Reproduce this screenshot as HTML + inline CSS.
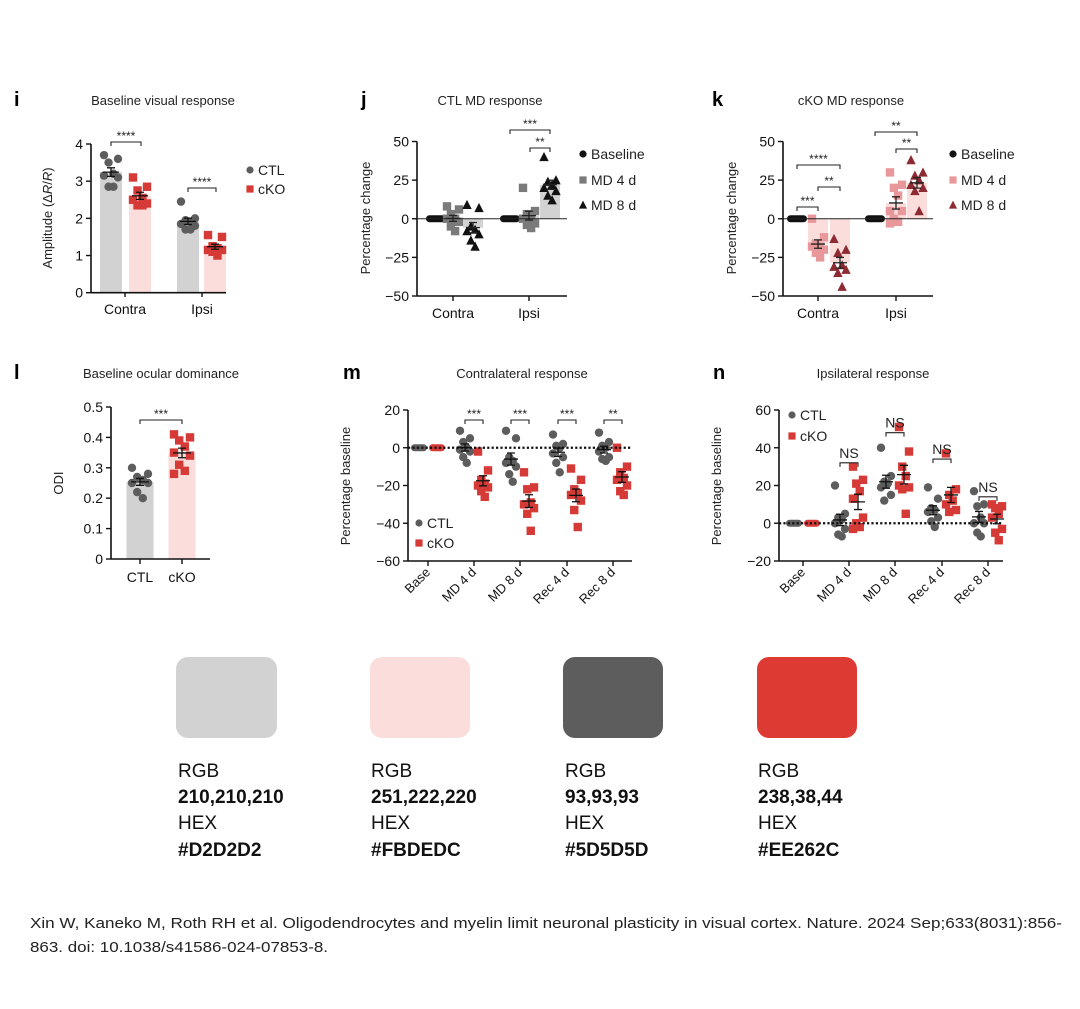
<!DOCTYPE html>
<html><head><meta charset="utf-8">
<style>
html,body{margin:0;padding:0;background:#fff;}
svg{display:block;font-family:"Liberation Sans",Arial,sans-serif;}
</style></head>
<body>
<svg id="fig" width="1080" height="1009" viewBox="0 0 1080 1009" xmlns="http://www.w3.org/2000/svg">
<g id="plots"></g>
<g id="swatches">
  <rect x="176" y="657" width="101" height="81" rx="12" fill="#D2D2D2"/>
  <rect x="370" y="657" width="100" height="81" rx="12" fill="#FBDEDC"/>
  <rect x="563" y="657" width="100" height="81" rx="12" fill="#5D5D5D"/>
  <rect x="757" y="657" width="100" height="81" rx="12" fill="#DE3A34"/>
  <g font-size="19" fill="#111" font-family="'Liberation Sans Narrow','Liberation Sans',sans-serif">
    <text x="178" y="777">RGB</text>
    <text x="178" y="803" font-weight="bold">210,210,210</text>
    <text x="178" y="829">HEX</text>
    <text x="178" y="856" font-weight="bold">#D2D2D2</text>
    <text x="371" y="777">RGB</text>
    <text x="371" y="803" font-weight="bold">251,222,220</text>
    <text x="371" y="829">HEX</text>
    <text x="371" y="856" font-weight="bold">#FBDEDC</text>
    <text x="565" y="777">RGB</text>
    <text x="565" y="803" font-weight="bold">93,93,93</text>
    <text x="565" y="829">HEX</text>
    <text x="565" y="856" font-weight="bold">#5D5D5D</text>
    <text x="758" y="777">RGB</text>
    <text x="758" y="803" font-weight="bold">238,38,44</text>
    <text x="758" y="829">HEX</text>
    <text x="758" y="856" font-weight="bold">#EE262C</text>
  </g>
</g>
<g font-size="15" fill="#222">
  <text x="30" y="928" textLength="1032" lengthAdjust="spacingAndGlyphs">Xin W, Kaneko M, Roth RH et al. Oligodendrocytes and myelin limit neuronal plasticity in visual cortex. Nature. 2024 Sep;633(8031):856-</text>
  <text x="30" y="952" textLength="298" lengthAdjust="spacingAndGlyphs">863. doi: 10.1038/s41586-024-07853-8.</text>
</g>
</svg>
<script>
// ---------- data ----------
const iCats = ["Contra","Ipsi"];
const iCTL = [[3.6,3.7,3.5,3.2,3.15,2.85,2.85,3.1],[2.45,2.0,1.95,1.85,1.8,1.7,1.7,1.9]];
const iCKO = [[3.1,2.85,2.75,2.5,2.4,2.35,2.35,2.55],[1.55,1.5,1.25,1.2,1.15,1.1,1.0,1.15]];
const iTicks = [0,1,2,3,4];

const jCats = ["Contra","Ipsi"];
const jBase = [[0,0,0,0,0,0,0,0],[0,0,0,0,0,0,0,0]];
const jMD4 = [[8,6,3,0,-2,-5,-8,0],[20,5,3,0,-3,-6,-4,1]];
const jMD8 = [[9,7,-5,-8,-10,-14,-18,-7],[40,25,24,22,20,15,12,18]];
const jTicks = [-50,-25,0,25,50];

const kBase = [[0,0,0,0,0,0,0,0],[0,0,0,0,0,0,0,0]];
const kMD4 = [[0,-12,-16,-18,-20,-22,-25,-18],[30,22,20,15,5,0,-3,-2,5]];
const kMD8 = [[-13,-20,-22,-30,-33,-35,-44,-31],[38,30,28,22,20,18,5,25]];

const lCats = ["CTL","cKO"];
const lCTL = [0.30,0.28,0.27,0.26,0.25,0.25,0.22,0.20];
const lCKO = [0.41,0.40,0.39,0.37,0.35,0.34,0.31,0.29,0.28];
const lTicks = [0,0.1,0.2,0.3,0.4,0.5];

const mCats = ["Base","MD 4 d","MD 8 d","Rec 4 d","Rec 8 d"];
const mCTL = [[0,0,0,0,0,0,0,0],[9,5,3,0,-2,-5,-8,-1],[9,5,-5,-8,-10,-14,-18,-7],[7,2,1,-3,-5,-8,-13,0],[8,3,1,-2,-5,-7,-6,0]];
const mCKO = [[0,0,0,0,0,0,0,0],[-2,-12,-17,-19,-21,-23,-26,-20],[-13,-21,-22,-29,-32,-35,-44,-30],[-11,-17,-22,-24,-28,-33,-42,-25],[0,-10,-13,-16,-20,-23,-25,-17]];
const mTicks = [-60,-40,-20,0,20];
const mSig = ["","***","***","***","**"];

const nCTL = [[0,0,0,0,0,0,0,0],[20,5,3,0,-3,-6,-7,2],[40,25,22,21,19,15,12],[19,13,8,6,3,1,-2,7],[17,10,9,3,0,-5,-7,0]];
const nCKO = [[0,0,0,0,0,0,0,0],[30,23,21,17,13,3,0,-2,-3],[51,38,30,25,20,18,19,5],[37,18,15,12,10,7,6],[10,9,8,5,3,-3,-5,-9]];
const nTicks = [-20,0,20,40,60];
const nSig = ["","NS","NS","NS","NS"];
const nSigVal = [0,32,48,34,14];

// ---------- helpers ----------
const NS='http://www.w3.org/2000/svg';
const root=document.getElementById('plots');
function mk(tag,attrs,parent,txt){const e=document.createElementNS(NS,tag);for(const k in attrs)e.setAttribute(k,attrs[k]);if(txt!==undefined)e.textContent=txt;(parent||root).appendChild(e);return e;}
function lin(d0,d1,r0,r1){return v=>r0+(v-d0)*(r1-r0)/(d1-d0);}
const mean=a=>a.reduce((s,v)=>s+v,0)/a.length;
const sem=a=>{const m=mean(a);return Math.sqrt(a.reduce((s,v)=>s+(v-m)*(v-m),0)/(a.length-1))/Math.sqrt(a.length);};
const GRAY='#5D5D5D',RED='#D63A36',LGRAY='#D2D2D2',LPINK='#FBDEDC';

function yAxis(g,x,y,ticks,fmt,x1){
  const a=mk('line',{x1:x,x2:x,y1:y(ticks[ticks.length-1]),y2:y(ticks[0]),stroke:'#111','stroke-width':1.6},g);
  
  ticks.forEach(t=>{
    mk('line',{x1:x-5,x2:x,y1:y(t),y2:y(t),stroke:'#111','stroke-width':1.4},g);
    const tl=mk('text',{x:x-8,y:y(t)+5,'text-anchor':'end','font-size':14,fill:'#111'},g,fmt?fmt(t):String(t).replace('-','\u2212'));
    
  });
  const b=mk('line',{x1:x,x2:x1,y1:y(ticks[0]),y2:y(ticks[0]),stroke:'#111','stroke-width':1.6},g);
  
}
function header(g,letter,lx,title,tx,ty){
  const l=mk('text',{x:lx,y:ty+1,'font-size':20,'font-weight':'bold',fill:'#000'},g,letter);
  
  const t=mk('text',{x:tx,y:ty,'font-size':13,'text-anchor':'middle',fill:'#222'},g,title);
  
}
function yTitle(g,x,yc,txt){
  const t=mk('text',{x:0,y:0,'font-size':13,'text-anchor':'middle',fill:'#222',transform:`translate(${x},${yc}) rotate(-90)`},g,txt);
  
  return t;
}
function bracket(g,x1,x2,yb,label,fs){
  const p=mk('path',{d:`M${x1} ${yb+4}V${yb}H${x2}V${yb+4}`,fill:'none',stroke:'#222','stroke-width':1.1},g);
  
  const t=mk('text',{x:(x1+x2)/2,y:yb-(label==='NS'?5:2),'text-anchor':'middle','font-size':fs||12,fill:'#222'},g,label);
  
}
function marker(g,shape,cx,cy,color,r){
  r=r||4.2;let e;
  if(shape==='c')e=mk('circle',{cx,cy,r,fill:color},g);
  else if(shape==='s')e=mk('rect',{x:cx-r,y:cy-r,width:2*r,height:2*r,fill:color},g);
  else e=mk('path',{d:`M${cx} ${cy-r-0.8}L${cx+r+0.5} ${cy+r}L${cx-r-0.5} ${cy+r}Z`,fill:color},g);
  
  return e;
}
function group(g,cx,vals,y,opt){
  const m=mean(vals),s=sem(vals),y0=y(0);
  if(opt.bar){
    const b=mk('rect',{x:cx-opt.bw/2,y:Math.min(y(m),y0),width:opt.bw,height:Math.abs(y(m)-y0),fill:opt.bar},g);
    
  }
  const allZero=vals.every(v=>v===0);
  if(allZero){
    const z=mk('rect',{x:cx-opt.zw,y:y0-3.5,width:opt.zw*2,height:7,rx:3.5,fill:opt.color},g);
    
    return;
  }
  const sorted=vals.map((v,i)=>({v,i})).sort((a,b)=>b.v-a.v);
  sorted.forEach((o,k)=>{
    const off=(k%2===0?-1:1)*opt.jit*((k%4<2)?1:0.35);
    marker(g,opt.shape,cx+off,y(o.v),opt.color,opt.r);
  });
  const ec=opt.ecol||'#111';
  const e=mk('path',{d:`M${cx-opt.mw} ${y(m)}H${cx+opt.mw}M${cx} ${y(m-s)}V${y(m+s)}M${cx-opt.cw} ${y(m-s)}H${cx+opt.cw}M${cx-opt.cw} ${y(m+s)}H${cx+opt.cw}`,stroke:ec,'stroke-width':1.3,fill:'none'},g);
  
}
function legendItem(g,shape,x,y,color,label,fs){
  const it=mk('g',{},g);
  
  marker(it,shape,x,y,color,3.6);
  mk('text',{x:x+8,y:y+5,'font-size':fs||14,fill:'#222'},it,label);
}
function xLabel(g,x,y,txt){
  const t=mk('text',{x,y,'text-anchor':'middle','font-size':14,fill:'#111'},g,txt);
  
}

// ---------- panel i ----------
(function(){
  const g=mk('g',{});
  header(g,'i',14,'Baseline visual response',163,105);
  const y=lin(0,4,292.7,144);
  const cx=[[111,140],[188,215]], tx=[125,202];
  iCats.forEach((c,k)=>{
    group(g,cx[k][0],iCTL[k],y,{bar:LGRAY,bw:22,shape:'c',color:GRAY,jit:7,mw:8,cw:4,zw:8});
    group(g,cx[k][1],iCKO[k],y,{bar:LPINK,bw:22,shape:'s',color:RED,jit:7,mw:8,cw:4,zw:8});
  });
  yAxis(g,91,y,iTicks,null,226);
  tx.forEach((x,k)=>{mk('line',{x1:x,x2:x,y1:292.7,y2:297,stroke:'#111','stroke-width':1.4},g);xLabel(g,x,314,iCats[k]);});
  const t=yTitle(g,52,218,'');
  t.innerHTML='Amplitude (\u0394<tspan font-style="italic">R</tspan>/<tspan font-style="italic">R</tspan>)';
  bracket(g,111,141,142,'****');bracket(g,188,216,188,'****');
  legendItem(g,'c',250,170,GRAY,'CTL');legendItem(g,'s',250,189,RED,'cKO');
})();

// ---------- panels j, k ----------
function mdPanel(name,letter,lx,title,tx,ax,groups,data,colors,bars,legX,brackets){
  const g=mk('g',{});
  header(g,letter,lx,title,tx,105);
  const y=lin(-50,50,296,141.5);
  const shapes=['c','s','t'];
  [0,1].forEach(k=>{
    data.forEach((ser,si)=>{
      group(g,groups[k][si],ser[k],y,{bar:si>0?bars[si]:null,bw:20,shape:shapes[si],color:colors[si],jit:6,mw:7,cw:4,zw:10,ecol:'#222'});
    });
  });
  mk('line',{x1:ax,x2:ax+150,y1:y(0),y2:y(0),stroke:'#222','stroke-width':1.1},g);
  yAxis(g,ax,y,jTicks,null,ax+150);
  [0,1].forEach(k=>{const x=groups[k][1];mk('line',{x1:x,x2:x,y1:296,y2:301,stroke:'#111','stroke-width':1.4},g);xLabel(g,x,318,jCats[k]);});
  yTitle(g,ax-47,218,'Percentage change');
  brackets.forEach(b=>bracket(g,b[0],b[1],b[2],b[3]));
  legendItem(g,'c',legX,154,'#111','Baseline');legendItem(g,'s',legX,180,colors[1],'MD 4 d');legendItem(g,'t',legX,205,colors[2],'MD 8 d');
}
mdPanel('panel-j','j',361,'CTL MD response',490,417,[[436,453,473],[510,529,550]],[jBase,jMD4,jMD8],['#111','#7A7A7A','#111'],[null,LGRAY,LGRAY],583,
  [[510,550,130,'***'],[530,550,148,'**']]);
mdPanel('panel-k','k',712,'cKO MD response',851,783,[[797,818,840],[875,896,917]],[kBase,kMD4,kMD8],['#111','#E8989A','#8E2A31'],[null,LPINK,LPINK],953,
  [[797,818,207,'***'],[797,840,165,'****'],[818,840,187,'**'],[875,917,132,'**'],[896,917,149,'**']]);

// ---------- panel l ----------
(function(){
  const g=mk('g',{});
  header(g,'l',14,'Baseline ocular dominance',161,378);
  const y=lin(0,0.5,559,407);
  group(g,140,lCTL,y,{bar:LGRAY,bw:27,shape:'c',color:GRAY,jit:8,mw:9,cw:4,zw:8});
  group(g,182,lCKO,y,{bar:LPINK,bw:27,shape:'s',color:RED,jit:8,mw:9,cw:4,zw:8});
  yAxis(g,111,y,lTicks,t=>t===0?'0':t.toFixed(1),210);
  [140,182].forEach((x,k)=>{mk('line',{x1:x,x2:x,y1:559,y2:564,stroke:'#111','stroke-width':1.4},g);xLabel(g,x,582,lCats[k]);});
  yTitle(g,63,483,'ODI');
  bracket(g,140,182,420,'***');
})();

// ---------- panels m, n ----------
function timePanel(name,letter,lx,title,tx,ax,ticksX,ctl,cko,yT,sig,legPos,legSep,sigVals){
  const g=mk('g',{});
  header(g,letter,lx,title,tx,378);
  const y=lin(yT[0],yT[yT.length-1],561,410);
  const ax1=ax+224;
  ticksX.forEach((tx_,k)=>{
    group(g,tx_-9,ctl[k],y,{shape:'c',color:GRAY,jit:5,mw:7,cw:4,zw:8});
    group(g,tx_+9,cko[k],y,{shape:'s',color:RED,jit:5,mw:7,cw:4,zw:8});
  });
  const z=mk('line',{x1:ax,x2:ax1,y1:y(0),y2:y(0),stroke:'#111','stroke-width':2.2,'stroke-dasharray':'2.2 2.2'},g);
  
  yAxis(g,ax,y,yT,null,ax1);
  ticksX.forEach((x,k)=>{
    mk('line',{x1:x,x2:x,y1:561,y2:566,stroke:'#111','stroke-width':1.4},g);
    const t=mk('text',{x:0,y:0,'text-anchor':'end','font-size':13,fill:'#111',transform:`translate(${x+3},${573}) rotate(-45)`},g,mCats[k]);
    
    if(sig[k]){
      const yb=sigVals?y(sigVals[k]):420;
      bracket(g,x-9,x+9,yb,sig[k],sig[k]==='NS'?14:12);
    }
  });
  yTitle(g,ax-58,486,'Percentage baseline');
  legendItem(g,'c',legPos[0],legPos[1],GRAY,'CTL');legendItem(g,'s',legPos[0],legPos[1]+legSep,RED,'cKO');
}
timePanel('panel-m','m',343,'Contralateral response',522,408,[428,474,520,567,613],mCTL,mCKO,mTicks,mSig,[419,523],20,null);
timePanel('panel-n','n',713,'Ipsilateral response',873,779,[803,849,895,942,988],nCTL,nCKO,nTicks,nSig,[792,415],21,nSigVal);
</script>
</body></html>
